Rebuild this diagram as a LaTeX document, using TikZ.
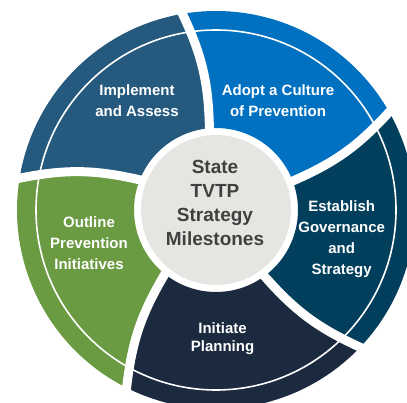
\documentclass[tikz,border=0pt]{standalone}
\usepackage{fontspec}
\setmainfont{Liberation Sans}
\definecolor{cImpl}{HTML}{255A7E}
\definecolor{cAdopt}{HTML}{0070C0}
\definecolor{cEst}{HTML}{023F5C}
\definecolor{cInit}{HTML}{1B2A3E}
\definecolor{cOut}{HTML}{6A9A41}
\definecolor{cCore}{HTML}{E6E5E1}
\definecolor{cCoreText}{HTML}{404040}
\newcommand\segm[5]{\fill[#1] (#2:82) to[bend right=12] (#3:199) arc[start angle=#3, end angle=#5, radius=199] to[bend left=12] (#4:82) arc[start angle=#4, end angle=#2, radius=82] -- cycle;}
\newcommand\gapcurve[2]{\draw[gapline] (#1:82) to[bend right=12] (#2:199);}
\tikzset{
  gapline/.style={draw=white, line width=9pt, line cap=rect},
  ringline/.style={draw=white, line width=1.6pt},
  segtext/.style={text=white, align=center, font=\bfseries\fontsize{15}{21}\selectfont},
  coretext/.style={text=cCoreText, align=center, font=\bfseries\fontsize{19}{23.7}\selectfont}
}
\begin{document}
\begin{tikzpicture}[x=1pt,y=1pt]
\useasboundingbox (0,0) rectangle (407,402);
\clip (0,0) rectangle (407,402);
\begin{scope}[shift={(216,192)}]
  \segm{cAdopt}{94.6}{99.7}{20.7}{29.5}
  \segm{cEst}{20.7}{29.5}{-53.8}{-43.6}
  \segm{cInit}{-53.8}{-43.6}{-128.6}{-116.7}
  \segm{cOut}{231.4}{243.3}{158.4}{170.8}
  \segm{cImpl}{158.4}{170.8}{94.6}{99.7}
  \draw[ringline] (0,0) circle[radius=180];
  \gapcurve{94.6}{99.7}
  \gapcurve{20.7}{29.5}
  \gapcurve{-53.8}{-43.6}
  \gapcurve{-128.6}{-116.7}
  \gapcurve{158.4}{170.8}
  \fill[cCore] (0,0) circle[radius=75];
  \coordinate (C) at (0,0);
\end{scope}
\node[coretext] (core) at (215,199) {State\\TVTP\\Strategy\\Milestones};
\node[segtext] (impl) at (137,301.5) {Implement\\and Assess};
\node[segtext] (adopt) at (278,301.5) {Adopt a Culture\\of Prevention};
\node[segtext] (est) at (341.7,162.5) {Establish\\Governance\\and\\Strategy};
\node[segtext, font=\bfseries\fontsize{15}{18}\selectfont] (init) at (222.5,63) {Initiate\\Planning};
\node[segtext] (outl) at (89,159.3) {Outline\\Prevention\\Initiatives};
\end{tikzpicture}
\end{document}
